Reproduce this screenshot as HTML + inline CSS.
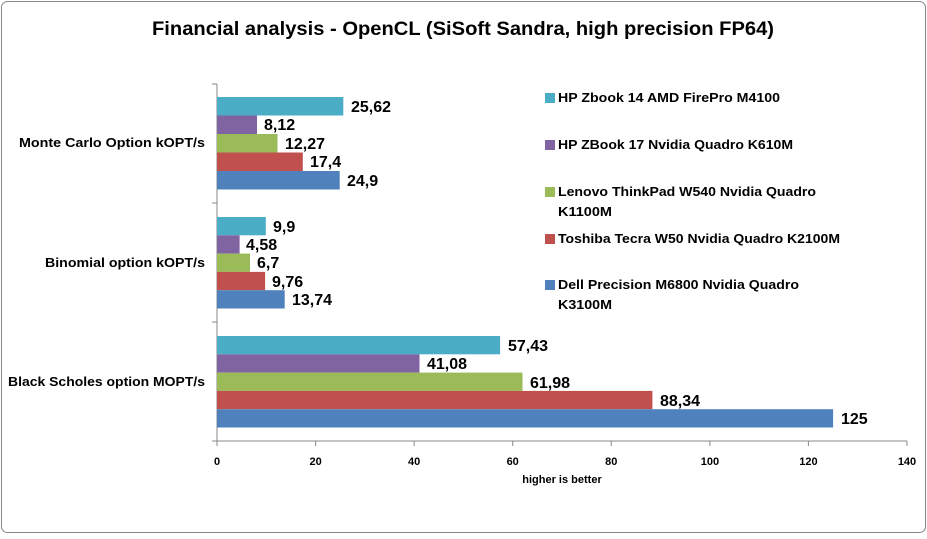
<!DOCTYPE html>
<html><head><style>body{margin:0;background:#fff}</style></head><body>
<svg width="927" height="534" xmlns="http://www.w3.org/2000/svg" font-family="Liberation Sans, sans-serif" font-weight="bold">
<rect x="1.5" y="1.5" width="924" height="531" rx="6" fill="#fff" stroke="#888"/>
<text x="463" y="35" text-anchor="middle" font-size="19" textLength="622" lengthAdjust="spacingAndGlyphs">Financial analysis - OpenCL (SiSoft Sandra, high precision FP64)</text>
<g stroke="#888" stroke-width="1">
<line x1="217" y1="84" x2="217" y2="441"/>
<line x1="217" y1="441" x2="907" y2="441"/>
<line x1="212" y1="84" x2="217" y2="84"/><line x1="212" y1="203" x2="217" y2="203"/><line x1="212" y1="322" x2="217" y2="322"/><line x1="212" y1="441" x2="217" y2="441"/>
<line x1="217" y1="441" x2="217" y2="446"/><line x1="315.6" y1="441" x2="315.6" y2="446"/><line x1="414.1" y1="441" x2="414.1" y2="446"/><line x1="512.7" y1="441" x2="512.7" y2="446"/><line x1="611.3" y1="441" x2="611.3" y2="446"/><line x1="709.9" y1="441" x2="709.9" y2="446"/><line x1="808.4" y1="441" x2="808.4" y2="446"/><line x1="907" y1="441" x2="907" y2="446"/>
</g>
<g font-size="11" text-anchor="middle">
<text x="217" y="465">0</text><text x="315.6" y="465">20</text><text x="414.1" y="465">40</text><text x="512.7" y="465">60</text><text x="611.3" y="465">80</text><text x="709.9" y="465">100</text><text x="808.4" y="465">120</text><text x="907" y="465">140</text>
<text x="562" y="483">higher is better</text>
</g>
<g font-size="13">
<text x="19" y="147" textLength="186" lengthAdjust="spacingAndGlyphs">Monte Carlo Option kOPT/s</text>
<text x="45" y="267" textLength="160" lengthAdjust="spacingAndGlyphs">Binomial option kOPT/s</text>
<text x="8" y="386" textLength="197" lengthAdjust="spacingAndGlyphs">Black Scholes option MOPT/s</text>
</g>
<g>
<rect x="217" y="97" width="126.3" height="18.5" fill="#4bacc6"/>
<rect x="217" y="115.5" width="40" height="18.5" fill="#8064a2"/>
<rect x="217" y="134" width="60.5" height="18.5" fill="#9bbb59"/>
<rect x="217" y="152.5" width="85.8" height="18.5" fill="#c0504d"/>
<rect x="217" y="171" width="122.7" height="18.5" fill="#4f81bd"/>
<rect x="217" y="217" width="48.8" height="18.3" fill="#4bacc6"/>
<rect x="217" y="235.3" width="22.6" height="18.3" fill="#8064a2"/>
<rect x="217" y="253.6" width="33" height="18.3" fill="#9bbb59"/>
<rect x="217" y="271.9" width="48.1" height="18.3" fill="#c0504d"/>
<rect x="217" y="290.2" width="67.7" height="18.3" fill="#4f81bd"/>
<rect x="217" y="336" width="283.1" height="18.3" fill="#4bacc6"/>
<rect x="217" y="354.3" width="202.5" height="18.3" fill="#8064a2"/>
<rect x="217" y="372.6" width="305.5" height="18.3" fill="#9bbb59"/>
<rect x="217" y="390.9" width="435.4" height="18.3" fill="#c0504d"/>
<rect x="217" y="409.2" width="616.1" height="18.3" fill="#4f81bd"/>
</g>
<g font-size="16">
<text x="351" y="112">25,62</text>
<text x="264" y="130">8,12</text>
<text x="285" y="149">12,27</text>
<text x="310" y="167">17,4</text>
<text x="347" y="186">24,9</text>
<text x="273" y="232">9,9</text>
<text x="246" y="250">4,58</text>
<text x="257" y="268">6,7</text>
<text x="272" y="287">9,76</text>
<text x="292" y="305">13,74</text>
<text x="508" y="351">57,43</text>
<text x="427" y="369">41,08</text>
<text x="530" y="388">61,98</text>
<text x="660" y="406">88,34</text>
<text x="841" y="424">125</text>
</g>
<g font-size="13">
<rect x="545" y="93" width="10" height="10" fill="#4bacc6"/><text x="558" y="102" textLength="222" lengthAdjust="spacingAndGlyphs">HP Zbook 14 AMD FirePro M4100</text>
<rect x="545" y="140" width="10" height="10" fill="#8064a2"/><text x="558" y="149" textLength="235" lengthAdjust="spacingAndGlyphs">HP ZBook 17 Nvidia Quadro K610M</text>
<rect x="545" y="187" width="10" height="10" fill="#9bbb59"/><text x="558" y="196" textLength="258" lengthAdjust="spacingAndGlyphs">Lenovo ThinkPad W540 Nvidia Quadro</text><text x="558" y="216" textLength="54" lengthAdjust="spacingAndGlyphs">K1100M</text>
<rect x="545" y="234" width="10" height="10" fill="#c0504d"/><text x="558" y="243" textLength="282" lengthAdjust="spacingAndGlyphs">Toshiba Tecra W50 Nvidia Quadro K2100M</text>
<rect x="545" y="280" width="10" height="10" fill="#4f81bd"/><text x="558" y="289" textLength="241" lengthAdjust="spacingAndGlyphs">Dell Precision M6800 Nvidia Quadro</text><text x="558" y="309" textLength="54" lengthAdjust="spacingAndGlyphs">K3100M</text>
</g>
</svg>
</body></html>
